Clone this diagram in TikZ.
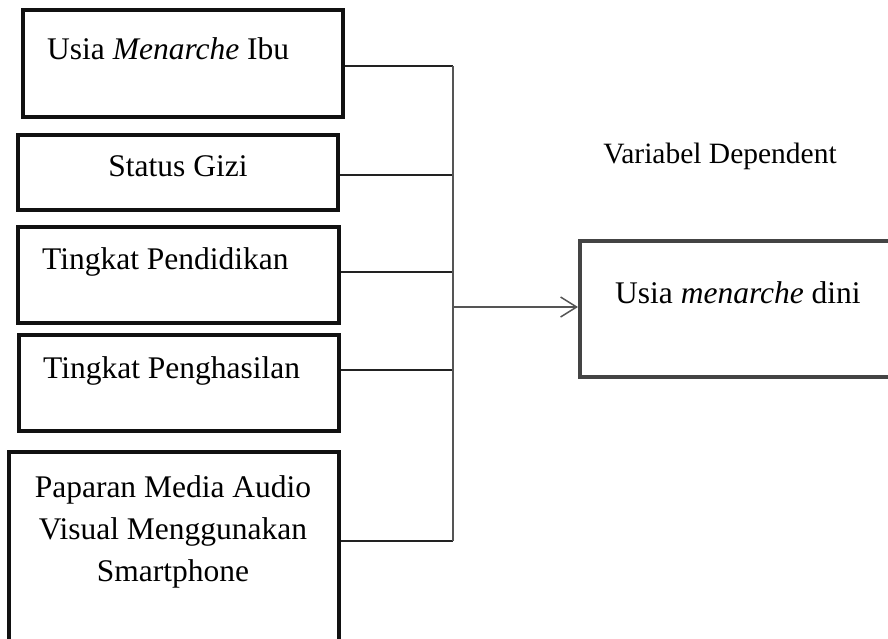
\documentclass[tikz,border=0pt]{standalone}
\usepackage{fontspec}
\setmainfont{Liberation Serif}
\usetikzlibrary{arrows.meta}
\definecolor{boxc}{HTML}{111111}
\definecolor{rboxc}{HTML}{444444}
\definecolor{linec}{HTML}{222222}
\definecolor{vlinec}{HTML}{555555}
\begin{document}
\begin{tikzpicture}[x=1pt,y=-1pt,
  vbox/.style={draw=boxc,line width=4pt,rectangle,inner sep=0pt},
  dbox/.style={draw=rboxc,line width=4pt,rectangle,inner sep=0pt},
  lbl/.style={inner sep=0pt,font=\fontsize{31.5}{42}\selectfont},
  conn/.style={draw=linec,line width=1.5pt},
  vconn/.style={draw=vlinec,line width=1.5pt}]
\useasboundingbox (0,0) rectangle (888,638);
\clip (0,0) rectangle (888,638);
\node[vbox,minimum width=320pt,minimum height=107pt] (b1) at (183,63.5) {};
\node[vbox,minimum width=320pt,minimum height=75pt] (b2) at (178,172.5) {};
\node[vbox,minimum width=321pt,minimum height=96pt] (b3) at (178.5,275) {};
\node[vbox,minimum width=320pt,minimum height=96pt] (b4) at (179,383) {};
\node[vbox,minimum width=330pt,minimum height=198pt] (b5) at (174,551) {};
\node[dbox,minimum width=320pt,minimum height=136pt] (rb) at (740,309) {};

\node[lbl,anchor=base west] (t1) at (47,59) {Usia \textit{Menarche} Ibu};
\node[lbl,anchor=base] (t2) at (178,176) {Status Gizi};
\node[lbl,anchor=base west] (t3) at (42,269) {Tingkat Pendidikan};
\node[lbl,anchor=base west] (t4) at (43,378) {Tingkat Penghasilan};
\node[lbl,align=center] (t5) at (173,532) {Paparan Media Audio\\Visual Menggunakan\\Smartphone};
\node[lbl,anchor=base] (vd) at (720,163) {\fontsize{29.5}{34}\selectfont Variabel Dependent};
\node[lbl,anchor=base west] (t6) at (615,303) {Usia \textit{menarche} dini};

\coordinate (j1) at (453,66);
\coordinate (j2) at (453,175);
\coordinate (j3) at (453,272);
\coordinate (j4) at (453,370);
\coordinate (j5) at (453,541);
\coordinate (ja) at (453,307);

\draw[conn] (b1.east |- j1) -- (j1);
\draw[conn] (b2.east |- j2) -- (j2);
\draw[conn] (b3.east |- j3) -- (j3);
\draw[conn] (b4.east |- j4) -- (j4);
\draw[conn] (b5.east |- j5) -- (j5);
\draw[vconn] (j1) -- (j5);
\draw[vconn,-{Straight Barb[length=16pt,width=20pt,line width=1.5pt]}] (ja) -- (rb.west |- ja);
\end{tikzpicture}
\end{document}
